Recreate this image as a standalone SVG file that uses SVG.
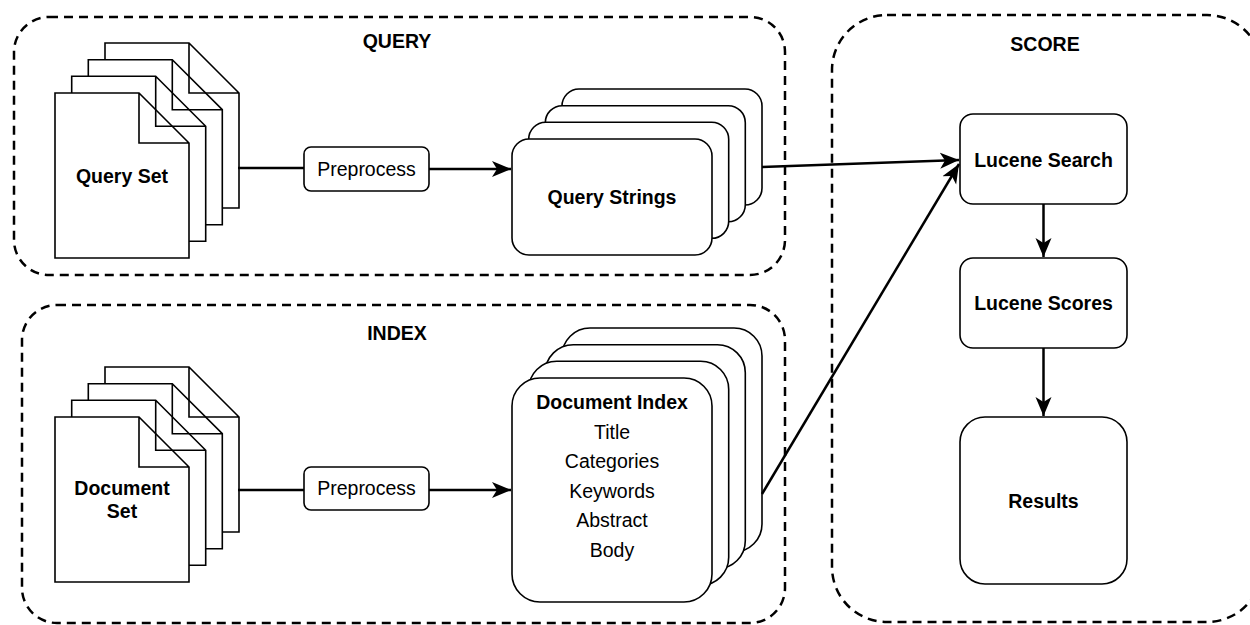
<svg xmlns="http://www.w3.org/2000/svg" width="1250" height="625" viewBox="0 0 1250 625">
<defs>
<style>
.c{fill:none;stroke:#000;stroke-width:2.5;stroke-dasharray:9 6}
.s{fill:#fff;stroke:#000;stroke-width:1.6}
.e{fill:none;stroke:#000;stroke-width:2.5}
text{font-family:"Liberation Sans",Arial,sans-serif;font-size:19.5px;fill:#000;text-anchor:middle}
.b{font-weight:bold}
</style>
<marker id="ah" markerUnits="userSpaceOnUse" markerWidth="20" markerHeight="18" viewBox="0 0 20 18" refX="19" refY="9" orient="auto">
<path d="M0,1 L19,9 L0,17 L5,9 Z" fill="#000"/>
</marker>
<path id="doc" d="M0,0 H84 L134,50 V165 H0 Z M84,0 V50 H134"/>
</defs>
<rect width="1250" height="625" fill="#fff"/>
<g id="query-group">
<rect class="c" x="14" y="17" width="771" height="258" rx="35"/>
<text class="b" x="397" y="48">QUERY</text>
</g>
<g id="index-group">
<rect class="c" x="22" y="305" width="763" height="318" rx="35"/>
<text class="b" x="397" y="340">INDEX</text>
</g>
<g id="score-group">
<rect class="c" x="832" y="15" width="430" height="607" rx="55"/>
<text class="b" x="1045" y="51">SCORE</text>
</g>
<g id="query-set">
<use href="#doc" class="s" x="105" y="43"/>
<use href="#doc" class="s" x="88.3" y="59.7"/>
<use href="#doc" class="s" x="71.7" y="76.3"/>
<use href="#doc" class="s" x="55" y="93"/>
<text class="b" x="122" y="183">Query Set</text>
</g>
<g id="document-set">
<use href="#doc" class="s" x="105" y="367"/>
<use href="#doc" class="s" x="88.3" y="383.7"/>
<use href="#doc" class="s" x="71.7" y="400.3"/>
<use href="#doc" class="s" x="55" y="417"/>
<text class="b" x="122" y="495">Document</text>
<text class="b" x="122" y="518">Set</text>
</g>
<g id="preprocess-query">
<rect class="s" x="304" y="147" width="125" height="44" rx="7"/>
<text x="366.5" y="176">Preprocess</text>
</g>
<g id="preprocess-index">
<rect class="s" x="304" y="467" width="125" height="43" rx="7"/>
<text x="366.5" y="495">Preprocess</text>
</g>
<g id="query-strings">
<rect class="s" x="562" y="89" width="200" height="116" rx="17"/>
<rect class="s" x="545.3" y="105.7" width="200" height="116" rx="17"/>
<rect class="s" x="528.7" y="122.3" width="200" height="116" rx="17"/>
<rect class="s" x="512" y="139" width="200" height="116" rx="17"/>
<text class="b" x="612" y="204">Query Strings</text>
</g>
<g id="document-index">
<rect class="s" x="562" y="328" width="200" height="224" rx="28"/>
<rect class="s" x="545.3" y="344.7" width="200" height="224" rx="28"/>
<rect class="s" x="528.7" y="361.3" width="200" height="224" rx="28"/>
<rect class="s" x="512" y="378" width="200" height="224" rx="28"/>
<text class="b" x="612" y="409">Document Index</text>
<text x="612" y="438.5">Title</text>
<text x="612" y="468">Categories</text>
<text x="612" y="497.5">Keywords</text>
<text x="612" y="527">Abstract</text>
<text x="612" y="556.5">Body</text>
</g>
<g id="lucene-search">
<rect class="s" x="960" y="114" width="167" height="90" rx="13"/>
<text class="b" x="1043.5" y="167">Lucene Search</text>
</g>
<g id="lucene-scores">
<rect class="s" x="960" y="258" width="167" height="90" rx="13"/>
<text class="b" x="1043.5" y="310">Lucene Scores</text>
</g>
<g id="results">
<rect class="s" x="960" y="417" width="167" height="167" rx="25"/>
<text class="b" x="1043.5" y="508">Results</text>
</g>
<g id="connectors">
<line class="e" x1="238" y1="168" x2="304" y2="168"/>
<line class="e" x1="429" y1="169" x2="511" y2="169" marker-end="url(#ah)"/>
<line class="e" x1="238" y1="490" x2="304" y2="490"/>
<line class="e" x1="429" y1="490" x2="511" y2="490" marker-end="url(#ah)"/>
<line class="e" x1="762" y1="167" x2="959" y2="160" marker-end="url(#ah)"/>
<line class="e" x1="762" y1="494" x2="959" y2="164" marker-end="url(#ah)"/>
<line class="e" x1="1043.5" y1="204" x2="1043.5" y2="257" marker-end="url(#ah)"/>
<line class="e" x1="1043.5" y1="348" x2="1043.5" y2="416" marker-end="url(#ah)"/>
</g>
</svg>
